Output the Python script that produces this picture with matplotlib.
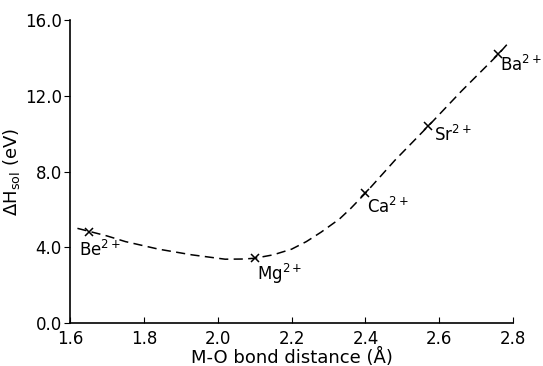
import matplotlib
matplotlib.use("Agg")
import matplotlib.pyplot as plt

# measured points (M-O bond distance in A, solvation enthalpy in eV)
ions = ["Be", "Mg", "Ca", "Sr", "Ba"]
bond_dist = [1.65, 2.10, 2.40, 2.57, 2.76]
dh_sol = [4.8, 3.42, 6.86, 10.4, 14.2]

# dashed guide curve
curve_x = [1.62, 1.70, 1.75, 1.84, 1.93, 2.02, 2.07, 2.10, 2.15, 2.20, 2.24, 2.28, 2.33, 2.36, 2.40,
           2.48, 2.57, 2.66, 2.76, 2.785]
curve_y = [5.0, 4.6, 4.3, 3.9, 3.6, 3.37, 3.38, 3.42, 3.6, 3.9, 4.3, 4.8, 5.5, 6.05, 6.86,
           8.6, 10.4, 12.25, 14.2, 14.75]

# label offsets in data units
label_dx = [-0.025, 0.005, 0.005, 0.015, 0.005]
label_dy = [-0.95, -0.85, -0.75, -0.45, -0.55]

x_ticks = [1.6, 1.8, 2.0, 2.2, 2.4, 2.6, 2.8]
y_ticks = [0.0, 4.0, 8.0, 12.0, 16.0]

fig = plt.figure(figsize=(5.43, 3.66), dpi=100)
ax = fig.add_axes([0.129, 0.1175, 0.816, 0.8275])

ax.plot(curve_x, curve_y, color="black", linestyle=(0, (6, 3.5)), linewidth=1.1)
ax.plot(bond_dist, dh_sol, linestyle="none", marker="x", color="black",
        markersize=5.5, markeredgewidth=1.1)

for name, x, y, dx, dy in zip(ions, bond_dist, dh_sol, label_dx, label_dy):
    ax.text(x + dx, y + dy, name + r"$^{2+}$", fontsize=12, ha="left", va="center")

ax.set_xlim(1.6, 2.8)
ax.set_ylim(0, 16)
ax.set_xticks(x_ticks)
ax.set_yticks(y_ticks)
ax.set_xticklabels(["%.1f" % v for v in x_ticks])
ax.set_yticklabels(["%.1f" % v for v in y_ticks])
ax.tick_params(axis="x", direction="in", length=4, labelsize=12, pad=5)
ax.tick_params(axis="y", direction="out", length=4, labelsize=12, pad=2)

ax.spines["top"].set_visible(False)
ax.spines["right"].set_visible(False)
ax.spines["left"].set_linewidth(1.2)
ax.spines["bottom"].set_linewidth(1.2)

ax.set_xlabel("M-O bond distance (Å)", fontsize=13, labelpad=0)
ax.set_ylabel(r"$\Delta$H$_{\rm sol}$ (eV)", fontsize=13, labelpad=2)

fig.savefig("out.png", dpi=100)
